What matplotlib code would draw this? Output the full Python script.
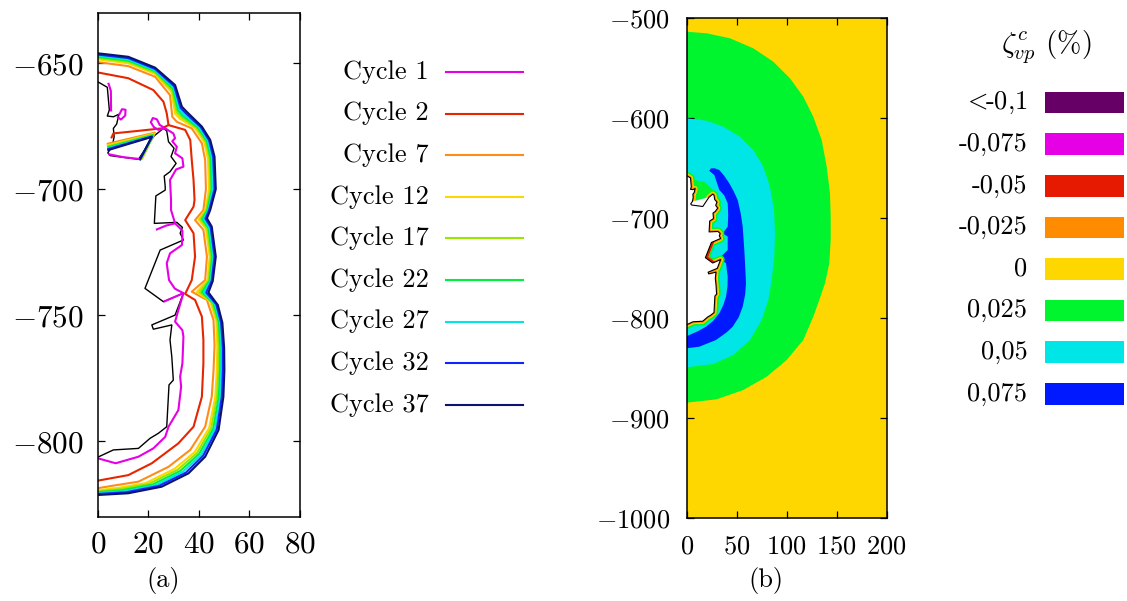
import matplotlib.pyplot as plt
from matplotlib.patches import Rectangle

plt.rcParams['font.family'] = 'cmr10'
plt.rcParams['mathtext.fontset'] = 'cm'
plt.rcParams['axes.formatter.use_mathtext'] = True
plt.rcParams['font.size'] = 19

W, H = 1127, 601

# ---------------- panel (a): damage fronts per cycle ----------------
cycle_labels = ['Cycle 1', 'Cycle 2', 'Cycle 7', 'Cycle 12', 'Cycle 17',
                'Cycle 22', 'Cycle 27', 'Cycle 32', 'Cycle 37']
cycle_colors = ['#e600e6', '#e62600', '#ff8c1a', '#ffd700', '#99e600',
                '#00f03c', '#00e6e6', '#0d26ff', '#0a1470']

# cavity outline (black)
wall_x = [0, 3.8, 4.6, 3.8, 6.2, 8.4, 7.5, 6.2, 6.5, 5.7, 4.0, 4.9, 16.1, 22.3,
          26.0, 27.3, 28.0, 30.2, 29.0, 31.0, 28.6, 26.3, 26.7, 26.7, 23.0, 22.4,
          31.3, 33.5, 32.6, 33.9, 24.7, 18.7, 26.0, 33.9, 30.6, 21.4, 22.0, 29.3,
          28.6, 29.3, 29.9, 28.2, 27.3, 24.0, 20.7, 16.1, 6.2, 0]
wall_y = [-657.4, -659.6, -668.6, -671.0, -671.3, -670.3, -674.2, -675.9, -679.2,
          -683.2, -685.6, -686.7, -688.2, -678.9, -675.9, -676.9, -681.2, -683.8,
          -687.1, -689.8, -693.1, -694.8, -699.0, -700.4, -702.7, -713.6, -713.2,
          -715.2, -717.5, -720.2, -724.2, -739.4, -744.7, -741.3, -750.0, -753.9,
          -755.6, -753.9, -759.9, -766.5, -775.8, -777.7, -794.3, -796.9, -798.9,
          -802.9, -803.5, -806.4]
block_x = [5.7, 22.3, 16.1, 4.9, 4.0]
block_y = [-683.2, -678.9, -688.2, -686.7, -685.6]

# cycle 1 (several pieces)
c1_top_x = [4.3, 5.2, 5.3]
c1_top_y = [-658.2, -661.0, -668.8]
c1_loop_x = [8.6, 9.6, 11.0, 10.9, 9.2, 8.0]
c1_loop_y = [-670.3, -668.3, -668.5, -670.8, -672.4, -671.5]
c1_main_x = [26.7, 24.0, 22.3, 21.0, 21.8, 23.4, 24.5, 26.7, 29.9, 30.6, 29.5, 31.3,
             30.6, 33.5, 33.9, 31.0, 28.6, 29.0, 29.0, 30.6, 33.5, 33.5, 33.3, 28.6,
             27.3, 28.2, 30.5, 33.9, 31.9, 30.6, 33.5, 33.9, 33.5, 32.6, 33.0, 31.9,
             28.0, 26.7, 22.0, 16.1, 7.1, 0]
c1_main_y = [-675.9, -676.5, -675.5, -673.5, -671.8, -672.3, -674.5, -675.9, -677.9,
             -679.8, -681.0, -683.2, -685.8, -687.8, -691.1, -692.2, -696.4, -704.3,
             -708.3, -713.6, -716.5, -718.9, -722.2, -725.5, -729.4, -736.1, -739.5,
             -741.3, -748.0, -752.6, -756.0, -758.6, -769.1, -774.4, -778.4, -787.7,
             -794.3, -798.3, -802.9, -806.2, -808.8, -806.8]
c1_br1_x = [30.6, 27.0, 23.4]
c1_br1_y = [-713.6, -714.5, -716.0]
c1_br2_x = [33.9, 29.5, 26.5]
c1_br2_y = [-741.3, -743.2, -744.5]
c1_blk_x = [4.5, 10.0, 16.1]
c1_blk_y = [-686.2, -687.3, -688.0]

# cycle 2
c2_x = [0, 12.1, 22.0, 26.0, 27.3, 28.0, 34.6, 36.6, 37.2, 37.9, 38.3, 37.9, 34.6,
        37.9, 38.5, 37.2, 34.6, 38.5, 41.2, 41.8, 41.8, 41.2, 37.9, 31.9, 21.4, 12.1, 0]
c2_y = [-653.7, -656.0, -660.7, -665.3, -669.9, -674.6, -676.5, -680.5, -688.5,
        -696.4, -704.3, -707.0, -712.3, -717.5, -726.8, -736.1, -741.6, -744.0,
        -750.6, -759.9, -769.1, -782.4, -794.3, -800.9, -808.8, -813.5, -815.7]
c2_br_x = [28.0, 25.3, 15.0, 6.2, 5.5]
c2_br_y = [-674.6, -675.9, -677.0, -677.9, -679.5]

# cycles 7 .. 37
c7_x = [0, 12.1, 22.7, 28.6, 29.5, 31.3, 37.2, 41.2, 42.5, 42.8, 41.8, 38.5, 41.8,
        43.2, 42.5, 37.2, 43.2, 45.8, 46.2, 45.8, 45.1, 42.5, 36.6, 28.0, 16.1, 6.0, 0]
c7_y = [-649.6, -651.2, -655.4, -662.7, -671.3, -673.3, -675.9, -681.8, -688.5,
        -700.0, -708.3, -712.3, -716.2, -726.8, -736.1, -740.7, -744.0, -752.0,
        -762.0, -772.0, -782.4, -794.3, -803.5, -810.2, -816.1, -817.7, -818.7]
c12_x = [0, 12.1, 22.7, 29.2, 30.6, 32.5, 38.4, 42.2, 43.6, 44.0, 42.6, 39.9, 42.8,
         44.3, 43.4, 39.2, 44.5, 46.9, 47.3, 47.1, 46.5, 44.1, 38.4, 30.4, 18.9, 7.8, 0]
c12_y = [-648.5, -650.1, -654.3, -661.5, -670.1, -672.1, -675.7, -681.4, -688.1,
         -700.0, -708.3, -712.1, -715.8, -726.8, -736.2, -740.8, -744.6, -752.3,
         -762.3, -772.0, -782.4, -794.7, -804.3, -811.0, -816.7, -818.6, -819.5]
c17_x = [0, 12.1, 22.7, 29.5, 31.2, 33.1, 39.0, 42.7, 44.2, 44.6, 43.0, 40.6, 43.3,
         44.8, 43.9, 40.2, 45.1, 47.4, 47.9, 47.7, 47.2, 44.9, 39.3, 31.6, 20.2, 8.7, 0]
c17_y = [-648.0, -649.5, -653.8, -660.9, -669.5, -671.5, -675.6, -681.2, -687.9,
         -700.0, -708.3, -712.0, -715.6, -726.8, -736.3, -740.8, -744.9, -752.5,
         -762.5, -772.0, -782.4, -794.9, -804.7, -811.4, -817.0, -819.1, -819.9]
c22_x = [0, 12.1, 22.7, 29.8, 31.8, 33.6, 39.6, 43.2, 44.7, 45.1, 43.4, 41.3, 43.8,
         45.3, 44.3, 41.2, 45.8, 47.9, 48.5, 48.4, 47.9, 45.7, 40.1, 32.7, 21.6, 9.7, 0]
c22_y = [-647.5, -649.0, -653.2, -660.3, -668.9, -670.9, -675.5, -681.0, -687.7,
         -700.0, -708.3, -711.9, -715.4, -726.8, -736.3, -740.9, -745.2, -752.6,
         -762.6, -772.0, -782.4, -795.1, -805.1, -811.8, -817.3, -819.5, -820.3]
c27_x = [0, 12.1, 22.7, 30.1, 32.3, 34.1, 40.1, 43.6, 45.2, 45.6, 43.8, 41.9, 44.2,
         45.8, 44.7, 42.0, 46.3, 48.4, 49.0, 48.9, 48.5, 46.4, 40.9, 33.8, 22.8, 10.5, 0]
c27_y = [-647.0, -648.5, -652.8, -659.8, -668.4, -670.4, -675.4, -680.9, -687.5,
         -700.0, -708.3, -711.8, -715.3, -726.8, -736.4, -740.9, -745.5, -752.7,
         -762.7, -772.0, -782.4, -795.2, -805.5, -812.1, -817.6, -819.9, -820.7]
c32_x = [0, 12.1, 22.7, 30.3, 32.8, 34.7, 40.7, 44.1, 45.7, 46.2, 44.1, 42.6, 44.7,
         46.2, 45.1, 42.9, 46.9, 48.8, 49.5, 49.5, 49.1, 47.1, 41.7, 34.9, 24.1, 11.3, 0]
c32_y = [-646.6, -648.0, -652.3, -659.2, -667.8, -669.8, -675.3, -680.7, -687.3,
         -700.0, -708.3, -711.7, -715.1, -726.8, -736.4, -741.0, -745.7, -752.9,
         -762.9, -772.0, -782.4, -795.4, -805.8, -812.5, -817.8, -820.3, -821.0]
c37_x = [0, 12.1, 22.7, 30.6, 33.3, 35.2, 41.2, 44.5, 46.2, 46.7, 44.5, 43.2, 45.1,
         46.7, 45.5, 43.8, 47.5, 49.3, 50.0, 50.1, 49.7, 47.8, 42.5, 35.9, 25.3, 12.1, 0]
c37_y = [-646.1, -647.5, -651.8, -658.7, -667.3, -669.3, -675.2, -680.5, -687.1,
         -700.0, -708.3, -711.6, -714.9, -726.8, -736.5, -741.0, -746.0, -753.0,
         -763.0, -772.0, -782.4, -795.6, -806.2, -812.8, -818.1, -820.7, -821.4]

# fronts along the top edge of the fallen block, cycles 7 .. 37
blk_fronts = [
    ([4.0, 22.6, 17.6], [-682.0, -677.6, -687.8]),
    ([4.0, 22.3, 17.4], [-682.6, -678.0, -687.9]),
    ([4.1, 22.1, 17.2], [-683.0, -678.3, -688.0]),
    ([4.1, 21.9, 17.0], [-683.4, -678.6, -688.0]),
    ([4.2, 21.7, 16.9], [-683.8, -678.9, -688.1]),
    ([4.2, 21.5, 16.8], [-684.1, -679.1, -688.1]),
    ([4.2, 21.4, 16.7], [-684.5, -679.3, -688.2]),
]

# ---------------- panel (b): zeta_vp^c field ----------------
zeta_labels = ['<-0,1', '-0,075', '-0,05', '-0,025', '0', '0,025', '0,05', '0,075']
zeta_colors = ['#660066', '#e600e6', '#e61a00', '#ff8c00', '#ffd700', '#00f52e',
               '#00e6e6', '#0019ff']

green_x = [0, 20, 43.3, 66.6, 86.6, 103.3, 116.6, 126.6, 135, 140, 143.3, 144, 144,
           142.6, 138.3, 132.6, 126.6, 116.6, 100, 80, 56.6, 30, 0]
green_y = [-513.4, -515, -520, -530, -543.4, -560, -578.4, -598.4, -621.7, -648.4,
           -675, -698.4, -721.7, -745, -765, -781.7, -798.4, -821.7, -841.7, -858.4,
           -871.7, -881, -884.4]
cyan_x = [0, 20, 36.6, 53.3, 66.6, 76.6, 83.3, 87.3, 88.3, 87.6, 85, 81.6, 75, 63.3,
          46.6, 26.6, 0]
cyan_y = [-600, -602.4, -608.4, -618.4, -631.7, -648.4, -668.4, -691.7, -715, -738.4,
          -761.7, -781.7, -801.7, -821.7, -836.7, -845.7, -849]
blue_x = [0, 12.6, 29.3, 40, 46, 52, 56, 58.5, 59.3, 58.5, 57.6, 56, 54, 51, 47,
          42.6, 37.5, 32.6, 28, 24.3, 22.5, 27.6, 32.6, 37.5, 41, 41.5, 41, 36, 41, 41,
          32.6, 39.3, 41, 40.8, 39.3, 36.5, 32.6, 26.5, 19.3, 11, 2.6, 0]
blue_y = [-830, -828.4, -821.7, -814, -808.4, -799, -788.4, -776, -765, -748,
          -731.7, -708.4, -695, -681.7, -673, -665, -657.5, -651.7, -650, -650, -652.5,
          -656.7, -671.7, -677, -685, -697, -708.4, -715, -718.4, -731.7, -740, -745,
          -758.4, -768, -778.4, -787, -795, -802.5, -808.4, -813, -816.7, -818]
wedge_x = [0, 10, 18, 25, 29, 22.3, 5.7, 0]
wedge_y = [-659.5, -662, -664, -670, -676, -678.9, -683.2, -683]
red_spot_x = [24.7, 18.7, 26.0]
red_spot_y = [-724.2, -739.4, -744.7]

fig = plt.figure(figsize=(W / 100, H / 100), dpi=100)

# ---- (a)
ax1 = fig.add_axes([97.7 / W, 1 - 516.7 / H, 202.3 / W, 504 / H])
ax1.plot(wall_x, wall_y, color='black', lw=1.0, zorder=2)
cyc_curves = [(c7_x, c7_y), (c12_x, c12_y), (c17_x, c17_y), (c22_x, c22_y),
              (c27_x, c27_y), (c32_x, c32_y), (c37_x, c37_y)]
for (cx, cy), col in zip(cyc_curves, cycle_colors[2:]):
    ax1.plot(cx, cy, color=col, lw=1.5, zorder=3)
for (fx, fy), col in zip(blk_fronts, cycle_colors[2:]):
    ax1.plot(fx, fy, color=col, lw=1.5, zorder=3)
for px, py in [(c2_x, c2_y), (c2_br_x, c2_br_y)]:
    ax1.plot(px, py, color=cycle_colors[1], lw=1.5, zorder=4)
for px, py in [(c1_top_x, c1_top_y), (c1_loop_x, c1_loop_y), (c1_main_x, c1_main_y),
               (c1_br1_x, c1_br1_y), (c1_br2_x, c1_br2_y), (c1_blk_x, c1_blk_y)]:
    ax1.plot(px, py, color=cycle_colors[0], lw=1.5, zorder=5)
ax1.set_xlim(0, 80)
ax1.set_ylim(-830, -630)
ax1.set_xticks([0, 20, 40, 60, 80])
ax1.set_yticks([-800, -750, -700, -650])

# ---- (b)
ax2 = fig.add_axes([686.7 / W, 1 - 518.3 / H, 200 / W, 500 / H])
ax2.set_facecolor(zeta_colors[4])
ax2.fill(green_x, green_y, color=zeta_colors[5], lw=0, zorder=1)
ax2.fill(cyan_x, cyan_y, color=zeta_colors[6], lw=0, zorder=2)
ax2.fill(blue_x, blue_y, color=zeta_colors[7], lw=0, zorder=3)
ax2.fill(wedge_x, wedge_y, color=zeta_colors[5], lw=0, zorder=4)
ax2.plot(wall_x, wall_y, color=zeta_colors[5], lw=6, zorder=5, solid_joinstyle='round')
ax2.plot(wall_x, wall_y, color=zeta_colors[4], lw=3.6, zorder=6, solid_joinstyle='round')
ax2.plot(wall_x, wall_y, color=zeta_colors[3], lw=2.2, zorder=7, solid_joinstyle='round')
ax2.plot(red_spot_x, red_spot_y, color=zeta_colors[2], lw=3.5, zorder=8)
ax2.fill(wall_x + [0], wall_y + [wall_y[0]], color='white', lw=0, zorder=9)
ax2.fill(block_x, block_y, color='white', lw=0, zorder=9)
ax2.plot(wall_x, wall_y, color='black', lw=0.8, zorder=10)
ax2.set_xlim(0, 200)
ax2.set_ylim(-1000, -500)
ax2.set_xticks([0, 50, 100, 150, 200])
ax2.set_yticks([-1000, -900, -800, -700, -600, -500])

for ax, fs, pd in ((ax1, 22.5, 10), (ax2, 19, 12)):
    ax.tick_params(direction='in', top=True, right=True, length=5, width=0.9,
                   pad=pd, labelsize=fs)
    for s in ax.spines.values():
        s.set_linewidth(1.1)
        s.set_zorder(20)

# ---- keys and captions (overlay in pixel units)
ov = fig.add_axes([0, 0, 1, 1])
ov.set_xlim(0, W)
ov.set_ylim(H, 0)
ov.axis('off')

for i, (lab, col) in enumerate(zip(cycle_labels, cycle_colors)):
    yy = 72 + 41.6 * i
    ov.text(428.5, yy, lab, ha='right', va='center', fontsize=19)
    ov.plot([446, 523], [yy, yy], color=col, lw=1.5)

ov.text(1046, 47, r'$\zeta^c_{vp}$ (%)', ha='center', va='center', fontsize=21)
for i, (lab, col) in enumerate(zip(zeta_labels, zeta_colors)):
    yy = 102.7 + 41.58 * i
    if lab.startswith('<'):
        lab = r'$<\!\!$' + lab[1:]
    ov.text(1027.5, yy, lab, ha='right', va='center', fontsize=19)
    ov.add_patch(Rectangle((1045, yy - 10.8), 79, 21.6, color=col, lw=0))

ov.text(163, 580, '(a)', ha='center', va='center', fontsize=19)
ov.text(766, 580, '(b)', ha='center', va='center', fontsize=19)

fig.savefig('out.png', dpi=100)
